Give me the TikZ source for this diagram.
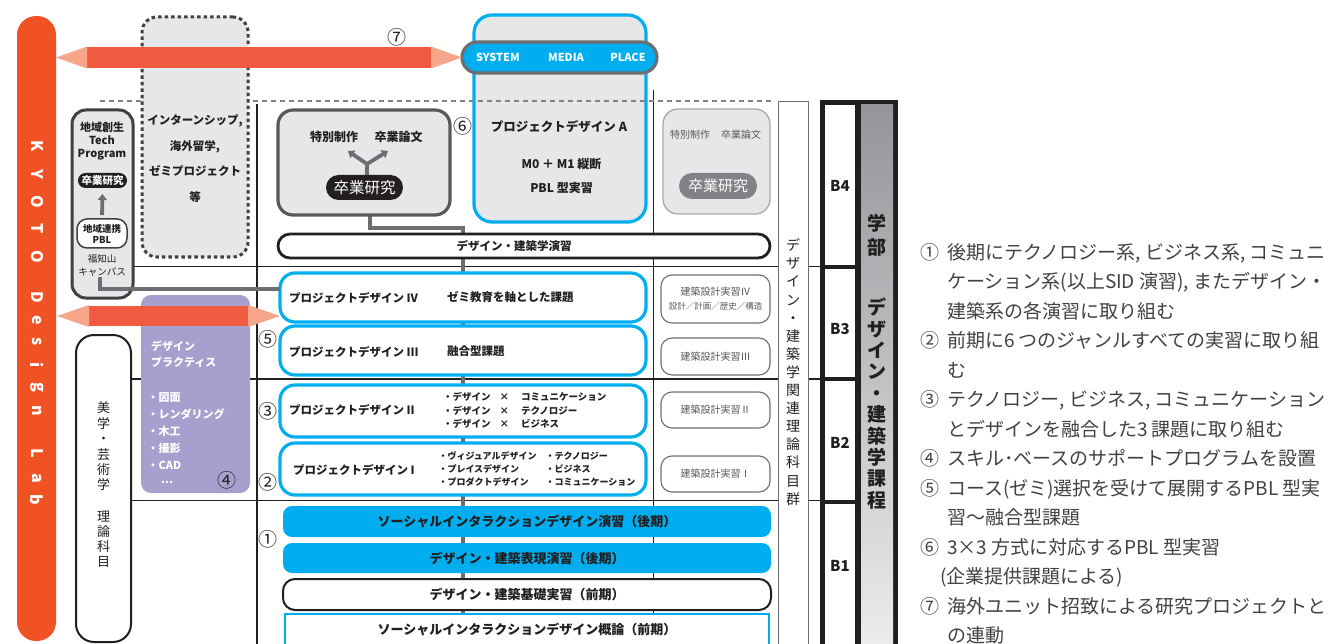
\documentclass[tikz,border=0pt]{standalone}
\usepackage{fontspec}
\setmainfont{Noto Sans CJK JP}
\usetikzlibrary{arrows.meta,calc}
\newcommand{\myfs}[2]{\fontsize{#1}{#2}\selectfont}
\definecolor{kyoto}{RGB}{240,82,36}
\definecolor{arrowred}{RGB}{239,90,64}
\definecolor{arrowpink}{RGB}{247,166,137}
\definecolor{cyanb}{RGB}{0,174,239}
\definecolor{lgray}{RGB}{230,231,232}
\definecolor{dk}{RGB}{65,64,66}
\definecolor{dktwo}{RGB}{88,89,91}
\definecolor{mgray}{RGB}{109,110,113}
\definecolor{gborder}{RGB}{167,169,172}
\definecolor{gpill}{RGB}{128,130,133}
\definecolor{gdash}{RGB}{128,130,133}
\definecolor{purp}{RGB}{166,160,206}
\definecolor{txt}{RGB}{35,31,32}
\definecolor{txtg}{RGB}{65,64,66}
\definecolor{dgray}{RGB}{88,89,91}
\definecolor{gtop}{RGB}{147,149,152}
\definecolor{gbot}{RGB}{236,237,238}
\pgfdeclarelayer{bg}
\pgfsetlayers{bg,main}
\begin{document}
\begin{tikzpicture}[x=1pt,y=-1pt,
 every node/.style={inner sep=0pt,outer sep=0pt},
 jb/.style={font=\bfseries\myfs{11.5}{14}, text=txt},
 pdbox/.style={draw=cyanb, line width=3.2pt, fill=white, rounded corners=15pt, minimum width=366pt},
 kbox/.style={draw=mgray, line width=1.1pt, fill=white, rounded corners=11pt, minimum width=109pt},
 ktxt/.style={font=\myfs{10}{12}, text=dgray},
 bar/.style={rounded corners=9pt, minimum width=488pt, font=\bfseries\myfs{13}{15}, text=txt},
 grid/.style={line width=1.5pt, draw=txt},
 spine/.style={line width=4pt, draw=mgray},
 circ/.style={font=\myfs{19}{19}, text=txt},
 lst/.style={anchor=base west, font=\myfs{19}{19}, text=txtg},
 vtxt/.style={align=center, text=txt},
 garr/.style={draw=mgray, line width=3.8pt},
 tipgray/.style={-{Triangle[length=6pt,width=9pt]}}]
\useasboundingbox (0,0) rectangle (1332,644);

% KYOTO Design Lab bar
\node[fill=kyoto, rounded corners=19pt, minimum width=39pt, minimum height=625pt] (kdl) at (36.5,328.5) {};
\foreach \lt/\yy in {K/146,Y/174,O/202,T/229,O/257,D/297,e/320,s/342,i/365,g/387,n/411,L/453,a/478,b/500}
  \node[text=white, font=\bfseries\myfs{16}{16}, rotate=-90] (kl\yy) at (37,\yy) {\lt};

% Fukuchiyama box
\node[draw=dk, line width=3pt, fill=lgray, rounded corners=14pt, minimum width=61pt, minimum height=188pt] (chiiki) at (102.5,204) {};
\node[jb, font=\bfseries\myfs{11}{13}, align=center] (chiikiT) at (102,141) {地域創生\\Tech\\Program};
\node[fill=txt, rounded corners=7.5pt, minimum width=49pt, minimum height=15pt, text=white, font=\bfseries\myfs{10.5}{12}] (tsotsu) at (102.5,180.5) {卒業研究};
\node[draw=dk, line width=1.5pt, fill=white, rounded corners=10pt, minimum width=50pt, minimum height=29pt, align=center, font=\bfseries\myfs{9.5}{11}, text=txt] (tpbl) at (102,233.5) {地域連携\\PBL};
\node[align=center, font=\myfs{9.5}{13}, text=txt] (fuku) at (102,265) {福知山\\キャンパス};
\draw[garr, tipgray, shorten <=4pt, shorten >=6pt] (tpbl.north) -- (tsotsu.south);

% Project design A
\node[draw=cyanb, line width=3.2pt, fill=lgray, rounded corners=18pt, minimum width=172pt, minimum height=207pt] (pda) at (560,118.5) {};
\node[draw=mgray, line width=3.2pt, fill=cyanb, rounded corners=15.5pt, minimum width=195pt, minimum height=31pt] (sys) at (559.5,57.5) {};
\node[text=white, font=\bfseries\myfs{11}{13}] (sysS) at (498,57.5) {SYSTEM};
\node[text=white, font=\bfseries\myfs{11}{13}] (sysM) at (566,57.5) {MEDIA};
\node[text=white, font=\bfseries\myfs{11}{13}] (sysP) at (628,57.5) {PLACE};
\node[jb, font=\bfseries\myfs{12.5}{14}] (pdaT) at (559,127) {プロジェクトデザイン A};
\node[jb, font=\bfseries\myfs{12}{14}] (pdaM) at (561.5,164) {M0 ＋ M1 縦断};
\node[jb, font=\bfseries\myfs{12}{14}] (pdaP) at (561.5,188) {PBL 型実習};

% dashed separator
\coordinate (dl1) at (100,101);
\coordinate (dl2) at (772,101);
\draw[draw=gdash, line width=1.3pt, dash pattern=on 5pt off 4pt] (dl1) -- (dl2);

% internship dotted box
\node[draw=dk, line width=3pt, dash pattern=on 3.5pt off 3pt, fill=lgray, rounded corners=15pt, minimum width=106pt, minimum height=240pt] (intern) at (195,137) {};
\node[jb, align=center, font=\bfseries\myfs{11.5}{25.7}] (internT) at (195,158.5) {インターンシップ,\\海外留学,\\ゼミプロジェクト\\等};

% graduation research (left)
\node[draw=dktwo, line width=3.2pt, fill=lgray, rounded corners=15pt, minimum width=172pt, minimum height=105pt] (sotsu) at (364,162.5) {};
\node[jb, font=\bfseries\myfs{12}{14}] (tok) at (334,137) {特別制作};
\node[jb, font=\bfseries\myfs{12}{14}] (ron) at (398.5,137) {卒業論文};
\node[fill=txt, rounded corners=12.5pt, minimum width=77pt, minimum height=25pt, text=white, font=\myfs{15.5}{17}] (bpill) at (364.5,187.5) {卒業研究};
\coordinate (yf) at (367,164);
\coordinate (ytl) at (348,151);
\coordinate (ytr) at (388,151);
\draw[garr] (bpill.north -| yf) -- (yf);
\draw[garr, tipgray] (yf) -- (ytl);
\draw[garr, tipgray] (yf) -- (ytr);

% graduation research (right)
\node[draw=gborder, line width=1.3pt, fill=lgray, rounded corners=15pt, minimum width=107pt, minimum height=105pt] (rsotsu) at (716.5,161.5) {};
\node[ktxt] (rtok) at (690,135) {特別制作};
\node[ktxt] (rron) at (741,135) {卒業論文};
\node[fill=gpill, rounded corners=13pt, minimum width=78pt, minimum height=26pt, text=white, font=\myfs{15}{17}] (gpill) at (718,186) {卒業研究};

% design and architecture seminar
\node[draw=txt, line width=2.8pt, fill=white, rounded corners=12pt, minimum width=492pt, minimum height=24pt] (ensyu) at (524,246) {};
\node[jb] (ensyuT) at (514,246.5) {デザイン・建築学演習};

% project design boxes
\node[pdbox, minimum height=49pt] (pd4) at (463,297.5) {};
\node[pdbox, minimum height=49pt] (pd3) at (463,350.5) {};
\node[pdbox, minimum height=52pt] (pd2) at (463,411) {};
\node[pdbox, minimum height=52pt] (pd1) at (463,469) {};
\node[jb, anchor=west] (pd4a) at (289,297.5) {プロジェクトデザイン IV};
\node[jb, anchor=west] (pd4b) at (447,297.5) {ゼミ教育を軸とした課題};
\node[jb, anchor=west] (pd3a) at (289,351.5) {プロジェクトデザイン III};
\node[jb, anchor=west] (pd3b) at (447,351.5) {融合型課題};
\node[jb, anchor=west] (pd2a) at (289,409.5) {プロジェクトデザイン II};
\node[anchor=west, font=\bfseries\myfs{9.5}{13.5}, text=txt] (pd2b) at (443,411.5) {\begin{tabular}{@{}l@{\hspace{9pt}}l@{\hspace{12pt}}l@{}}・デザイン&×&コミュニケーション\\・デザイン&×&テクノロジー\\・デザイン&×&ビジネス\end{tabular}};
\node[jb, anchor=west] (pd1a) at (293,469.5) {プロジェクトデザイン I};
\node[anchor=west, align=left, font=\bfseries\myfs{9}{13}, text=txt] (pd1b) at (438.5,469) {・ヴィジュアルデザイン\\・プレイスデザイン\\・プロダクトデザイン};
\node[anchor=west, align=left, font=\bfseries\myfs{9}{13}, text=txt] (pd1c) at (545.5,469) {・テクノロジー\\・ビジネス\\・コミュニケーション};

% architecture studio boxes
\node[kbox, minimum height=48pt] (k4) at (715.5,299) {};
\node[ktxt] (k4a) at (715.5,292) {建築設計実習Ⅳ};
\node[ktxt, font=\myfs{8.5}{10}] (k4b) at (715.5,306.5) {設計／計画／歴史／構造};
\node[kbox, ktxt, minimum height=37pt] (k3) at (715.5,356.5) {建築設計実習Ⅲ};
\node[kbox, ktxt, minimum height=36pt] (k2) at (715.5,410) {建築設計実習Ⅱ};
\node[kbox, ktxt, minimum height=36pt] (k1) at (715.5,474) {建築設計実習Ⅰ};

% theory column
\node[draw=mgray, line width=1pt, fill=white, minimum width=30pt, minimum height=548pt] (theory) at (793,376) {};
\node[vtxt, font=\myfs{14}{18.1}] (theoryT) at (793,372) {デ\\ザ\\イ\\ン\\・\\建\\築\\学\\関\\連\\理\\論\\科\\目\\群};

% B column
\node[fill=txt, minimum width=78pt, minimum height=550pt] (bcol) at (859,375) {};
\node[fill=white, minimum width=30pt, minimum height=545pt] (bcells) at (840,377.5) {};
\node[top color=gtop, bottom color=gbot, minimum width=32pt, minimum height=545pt] (bgrad) at (877,377.5) {};
\draw[line width=4pt, draw=txt] (825,266.5) -- (855,266.5);
\draw[line width=4pt, draw=txt] (825,379) -- (855,379);
\draw[line width=4pt, draw=txt] (825,501.5) -- (855,501.5);
\node[font=\bfseries\myfs{15}{15}, text=txt] (B4) at (840,186) {B4};
\node[font=\bfseries\myfs{15}{15}, text=txt] (B3) at (840,329) {B3};
\node[font=\bfseries\myfs{15}{15}, text=txt] (B2) at (840,443) {B2};
\node[font=\bfseries\myfs{15}{15}, text=txt] (B1) at (840,566) {B1};
\node[vtxt, font=\bfseries\myfs{19}{24}] (gakubu) at (877,235) {学\\部};
\node[vtxt, font=\bfseries\myfs{19}{21.4}] (katei) at (877,403.5) {デ\\ザ\\イ\\ン\\・\\建\\築\\学\\課\\程};

% aesthetics theory box
\node[draw=txt, line width=2pt, fill=white, rounded corners=18pt, minimum width=55pt, minimum height=307pt] (bigaku) at (103.5,488.5) {};
\node[vtxt, font=\myfs{13}{15.4}] (bigakuA) at (103.5,446.5) {美\\学\\・\\芸\\術\\学};
\node[vtxt, font=\myfs{13}{15}] (bigakuB) at (103.5,539.5) {理\\論\\科\\目};

% design practice
\node[fill=purp, rounded corners=10pt, minimum width=109pt, minimum height=198pt] (dp) at (195.5,394) {};
\node[anchor=west, align=left, text=white, font=\bfseries\myfs{11}{16.5}] (dpT) at (151,354) {デザイン\\プラクティス};
\node[anchor=west, align=left, text=white, font=\bfseries\myfs{11}{17}] (dpL) at (147.5,431) {・図面\\・レンダリング\\・木工\\・撮影\\・CAD};
\node[text=white, font=\bfseries\myfs{11}{11}] (dpD) at (167,482) {…};
\node[circ] (c4) at (227,480) {④};

% bottom bars
\node[bar, fill=cyanb, minimum height=31pt] (b1) at (527,521.5) {ソーシャルインタラクションデザイン演習（後期）};
\node[bar, fill=cyanb, minimum height=30pt] (b2) at (527,558) {デザイン・建築表現演習（後期）};
\node[bar, draw=txt, line width=2pt, fill=white, rounded corners=12pt, minimum height=31pt] (b3) at (527,594.5) {デザイン・建築基礎実習（前期）};
\node[bar, draw=cyanb, line width=2.5pt, fill=white, sharp corners, minimum width=484pt, minimum height=40pt] (b4) at (527,634) {};
\node[jb, font=\bfseries\myfs{13}{15}] (b4T) at (527,630) {ソーシャルインタラクションデザイン概論（前期）};

% connector from Fukuchiyama
\coordinate (fk1) at (100,277);
\coordinate (fk2) at (100,289);
\draw[draw=mgray, line width=3.5pt] (fk1) -- (fk2) -- (fk2 -| pd4.west);

% arrow 7
\coordinate (a7a) at (kdl.east |- sys.west);
\coordinate (a7b) at (sys.west);
\fill[arrowred] ($(a7a)+(31,-10.5)$) rectangle ($(a7b)+(-31,10.5)$);
\fill[arrowpink] (a7a) -- ++(31,-11) -- ++(0,22) -- cycle;
\fill[arrowpink] (a7b) -- ++(-31,-11) -- ++(0,22) -- cycle;

% arrow lower
\coordinate (a5a) at (57,316);
\coordinate (a5b) at (a5a -| pd4.west);
\fill[arrowred] ($(a5a)+(32,-10)$) rectangle ($(a5b)+(-32,10)$);
\fill[arrowpink] (a5a) -- ++(32,-11) -- ++(0,22) -- cycle;
\fill[arrowpink] (a5b) -- ++(-32,-11) -- ++(0,22) -- cycle;

% circled numbers
\node[circ] (c7) at (397,37) {⑦};
\node[circ] (c6) at (463,126) {⑥};
\node[circ] (c5) at (268,339) {⑤};
\node[circ] (c3) at (268,411) {③};
\node[circ] (c2) at (268,482) {②};
\node[circ] (c1) at (268,539) {①};

% right-hand notes
\node[lst] (r1) at (920,259) {①\hspace{8pt}後期にテクノロジー系, ビジネス系, コミュニ};
\node[lst] (r2) at (947,288.5) {ケーション系(以上SID 演習), またデザイン・};
\node[lst] (r3) at (947,318) {建築系の各演習に取り組む};
\node[lst] (r4) at (920,347.5) {②\hspace{8pt}前期に6 つのジャンルすべての実習に取り組};
\node[lst] (r5) at (947,377) {む};
\node[lst] (r6) at (920,406.5) {③\hspace{8pt}テクノロジー, ビジネス, コミュニケーション};
\node[lst] (r7) at (947,436) {とデザインを融合した3 課題に取り組む};
\node[lst] (r8) at (920,465.5) {④\hspace{8pt}スキル･ベースのサポートプログラムを設置};
\node[lst] (r9) at (920,495) {⑤\hspace{8pt}コース(ゼミ)選択を受けて展開するPBL 型実};
\node[lst] (r10) at (947,524.5) {習〜融合型課題};
\node[lst] (r11) at (920,554) {⑥\hspace{8pt}3×3 方式に対応するPBL 型実習};
\node[lst] (r12) at (940,583.5) {(企業提供課題による)};
\node[lst] (r13) at (920,613) {⑦\hspace{8pt}海外ユニット招致による研究プロジェクトと};
\node[lst] (r14) at (947,642.5) {の連動};

% background grid and spine
\begin{pgfonlayer}{bg}
\draw[grid] (131,266.5) -- (822,266.5);
\draw[grid] (131,379) -- (822,379);
\draw[grid] (131,500.5) -- (822,500.5);
\draw[grid] (257,104) -- (257,650);
\draw[grid] (653.5,90) -- (653.5,650);
\coordinate (sp1) at (370,228);
\draw[spine] (sotsu.south -| sp1) -- (sp1) -- (sp1 -| pd4) -- (pd4 |- b4.south);
\end{pgfonlayer}
\end{tikzpicture}
\end{document}
